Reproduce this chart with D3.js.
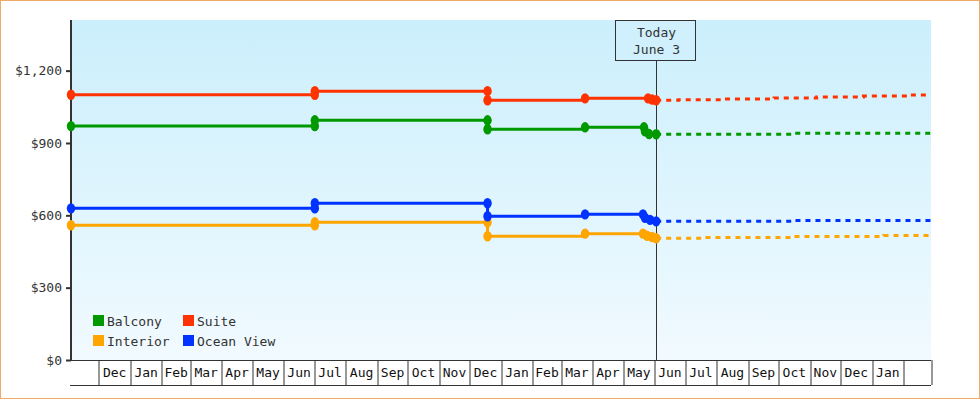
<!DOCTYPE html>
<html><head><meta charset="utf-8">
<script src="https://cdn.jsdelivr.net/npm/d3@7"></script>
<style>
html,body{margin:0;padding:0;background:#fff;}
svg{display:block;font-family:"DejaVu Sans Mono",monospace;}
</style></head>
<body>
<svg id="chart" width="980" height="400"></svg>
<script>
// ---- data ----
const seriesNames = ["Balcony", "Suite", "Interior", "Ocean View"];
const balcony = [["2012-11-04",970],["2013-07-02",970],["2013-07-02",994],["2013-12-19",994],["2013-12-19",957],["2014-03-25",965],["2014-05-22",965],["2014-05-23",948],["2014-05-27",937],["2014-06-03",936]];
const suite = [["2012-11-04",1100],["2013-07-02",1100],["2013-07-02",1115],["2013-12-19",1115],["2013-12-19",1077],["2014-03-25",1085],["2014-05-26",1085],["2014-05-30",1080],["2014-06-03",1077]];
const interior = [["2012-11-04",559],["2013-07-02",559],["2013-07-02",571],["2013-12-19",571],["2013-12-19",513],["2014-03-25",524],["2014-05-21",524],["2014-05-25",515],["2014-05-30",510],["2014-06-03",505]];
const oceanView = [["2012-11-04",629],["2013-07-02",629],["2013-07-02",650],["2013-12-19",650],["2013-12-19",596],["2014-03-25",604],["2014-05-21",604],["2014-05-23",590],["2014-05-28",581],["2014-06-03",575]];
const balconyForecast = [["2014-06-03",936],["2014-10-15",940],["2015-02-28",940]];
const suiteForecast = [["2014-06-03",1077],["2014-06-25",1079],["2014-08-08",1082],["2014-09-27",1087],["2014-11-08",1091],["2014-12-24",1095],["2015-02-06",1099],["2015-02-28",1099]];
const interiorForecast = [["2014-06-03",505],["2014-07-19",508],["2014-10-16",512],["2015-01-13",516],["2015-02-28",516]];
const oceanViewForecast = [["2014-06-03",575],["2014-10-15",578],["2015-02-28",578]];
const yTicks = [0, 300, 600, 900, 1200];
const monthLabels = ["Dec","Jan","Feb","Mar","Apr","May","Jun","Jul","Aug","Sep","Oct","Nov","Dec","Jan","Feb","Mar","Apr","May","Jun","Jul","Aug","Sep","Oct","Nov","Dec","Jan"];
const todayDate = "2014-06-03";
const todayText = ["Today", "June 3"];
const domainStart = "2012-11-04", domainEnd = "2015-02-28T12:00";

// ---- styles ----
const colors = {"Balcony":"#009900","Suite":"#ff3300","Interior":"#ffa500","Ocean View":"#0033ff"};
const parse = s => new Date(s + (s.length > 10 ? ":00Z" : "T00:00:00Z"));
const M = {left:71, right:931, top:20, bottom:360};

const svg = d3.select("#chart");
const defs = svg.append("defs");
const grad = defs.append("linearGradient").attr("id","bg").attr("x1",0).attr("y1",0).attr("x2",0).attr("y2",1);
grad.append("stop").attr("offset","0%").attr("stop-color","#cbeffc");
grad.append("stop").attr("offset","100%").attr("stop-color","#f1faff");

// outer border
svg.append("rect").attr("x",0.5).attr("y",0.5).attr("width",979).attr("height",398)
  .attr("fill","#fff").attr("stroke","#eeaa66");

const x = d3.scaleUtc().domain([parse(domainStart), parse(domainEnd)]).range([M.left, M.right]);
const y = d3.scaleLinear().domain([0, 1410]).range([M.bottom, M.top]);

svg.append("rect").attr("x",M.left).attr("y",M.top).attr("width",M.right-M.left).attr("height",M.bottom-M.top)
  .attr("fill","url(#bg)");

// x axis boxes
const monthStarts = d3.utcMonth.range(x.domain()[0], x.domain()[1]);
const boundaries = monthStarts.concat([x.domain()[1]]);
const xb = svg.append("g").attr("transform",`translate(0,${M.bottom})`)
  .call(d3.axisBottom(x).tickValues(boundaries).tickSize(25).tickSizeOuter(0).tickFormat(""));
xb.select(".domain").attr("stroke","#333").attr("d",`M${M.left},0.5H${M.right}`);
xb.selectAll(".tick line").attr("stroke","#333").attr("stroke-width",1)
  .attr("transform", d => { const p = x(d); return `translate(${Math.round(p)+0.5-p},0)`; });
svg.append("line").attr("x1",70).attr("x2",931).attr("y1",385.5).attr("y2",385.5).attr("stroke","#333");

const labelMonths = monthStarts.slice(0, monthLabels.length);
const mids = labelMonths.map(d => new Date((d.getTime() + d3.utcMonth.offset(d,1).getTime())/2));
const xl = svg.append("g").attr("transform",`translate(0,${M.bottom})`)
  .call(d3.axisBottom(x).tickValues(mids).tickSize(0).tickPadding(0).tickFormat((d,i) => monthLabels[i]));
xl.select(".domain").remove();
xl.selectAll("text").attr("font-family","DejaVu Sans Mono").attr("font-size",13).attr("fill","#111")
  .attr("y",17).attr("dy",0);

// y axis
const ya = svg.append("g").attr("transform",`translate(${M.left},0)`)
  .call(d3.axisLeft(y).tickValues(yTicks).tickSize(5).tickSizeOuter(0).tickPadding(4)
    .tickFormat(d => "$" + d3.format(",")(d)));
ya.select(".domain").attr("stroke","#333").attr("stroke-width",2).attr("d",`M0,${M.top}V${M.bottom+1}`);
ya.selectAll(".tick line").attr("stroke","#333").attr("stroke-width",2);
ya.selectAll("text").attr("font-family","DejaVu Sans Mono").attr("font-size",13).attr("fill","#333");

// today line
const tx = Math.round(x(parse(todayDate))) + 0.5;
svg.append("line").attr("x1",tx).attr("x2",tx).attr("y1",60).attr("y2",M.bottom).attr("stroke","#333");

// lines
const line = d3.line().x(d => x(parse(d[0]))).y(d => y(d[1])).curve(d3.curveStepAfter);
const series = [
  {name:"Interior", data:interior, fc:interiorForecast},
  {name:"Ocean View", data:oceanView, fc:oceanViewForecast},
  {name:"Balcony", data:balcony, fc:balconyForecast},
  {name:"Suite", data:suite, fc:suiteForecast}
];
series.forEach(s => {
  svg.append("path").attr("d", line(s.fc)).attr("fill","none").attr("stroke",colors[s.name])
    .attr("stroke-width",3).attr("stroke-dasharray","5,5");
  svg.append("path").attr("d", line(s.data)).attr("fill","none").attr("stroke",colors[s.name])
    .attr("stroke-width",3);
  svg.append("g").selectAll("ellipse").data(s.data).join("ellipse")
    .attr("cx", d => x(parse(d[0]))).attr("cy", d => y(d[1]))
    .attr("rx",4.2).attr("ry",5.2).attr("fill",colors[s.name]);
});

// today box
svg.append("rect").attr("x",615.5).attr("y",20.5).attr("width",80).attr("height",40)
  .attr("fill","#cff0fc").attr("stroke","#333");
svg.append("text").attr("x",tx).attr("y",37).attr("text-anchor","middle")
  .attr("font-size",13).attr("fill","#333").text(todayText[0]);
svg.append("text").attr("x",tx).attr("y",54).attr("text-anchor","middle")
  .attr("font-size",13).attr("fill","#333").text(todayText[1]);

// legend
const legendPos = {"Balcony":[93,315],"Suite":[183,315],"Interior":[93,335],"Ocean View":[183,335]};
seriesNames.forEach(n => {
  const [lx, ly] = legendPos[n];
  svg.append("rect").attr("x",lx).attr("y",ly).attr("width",11).attr("height",11).attr("fill",colors[n]);
  svg.append("text").attr("x",lx+14).attr("y",ly+10.5).attr("font-size",13).attr("fill","#333").text(n);
});
</script>
</body></html>
